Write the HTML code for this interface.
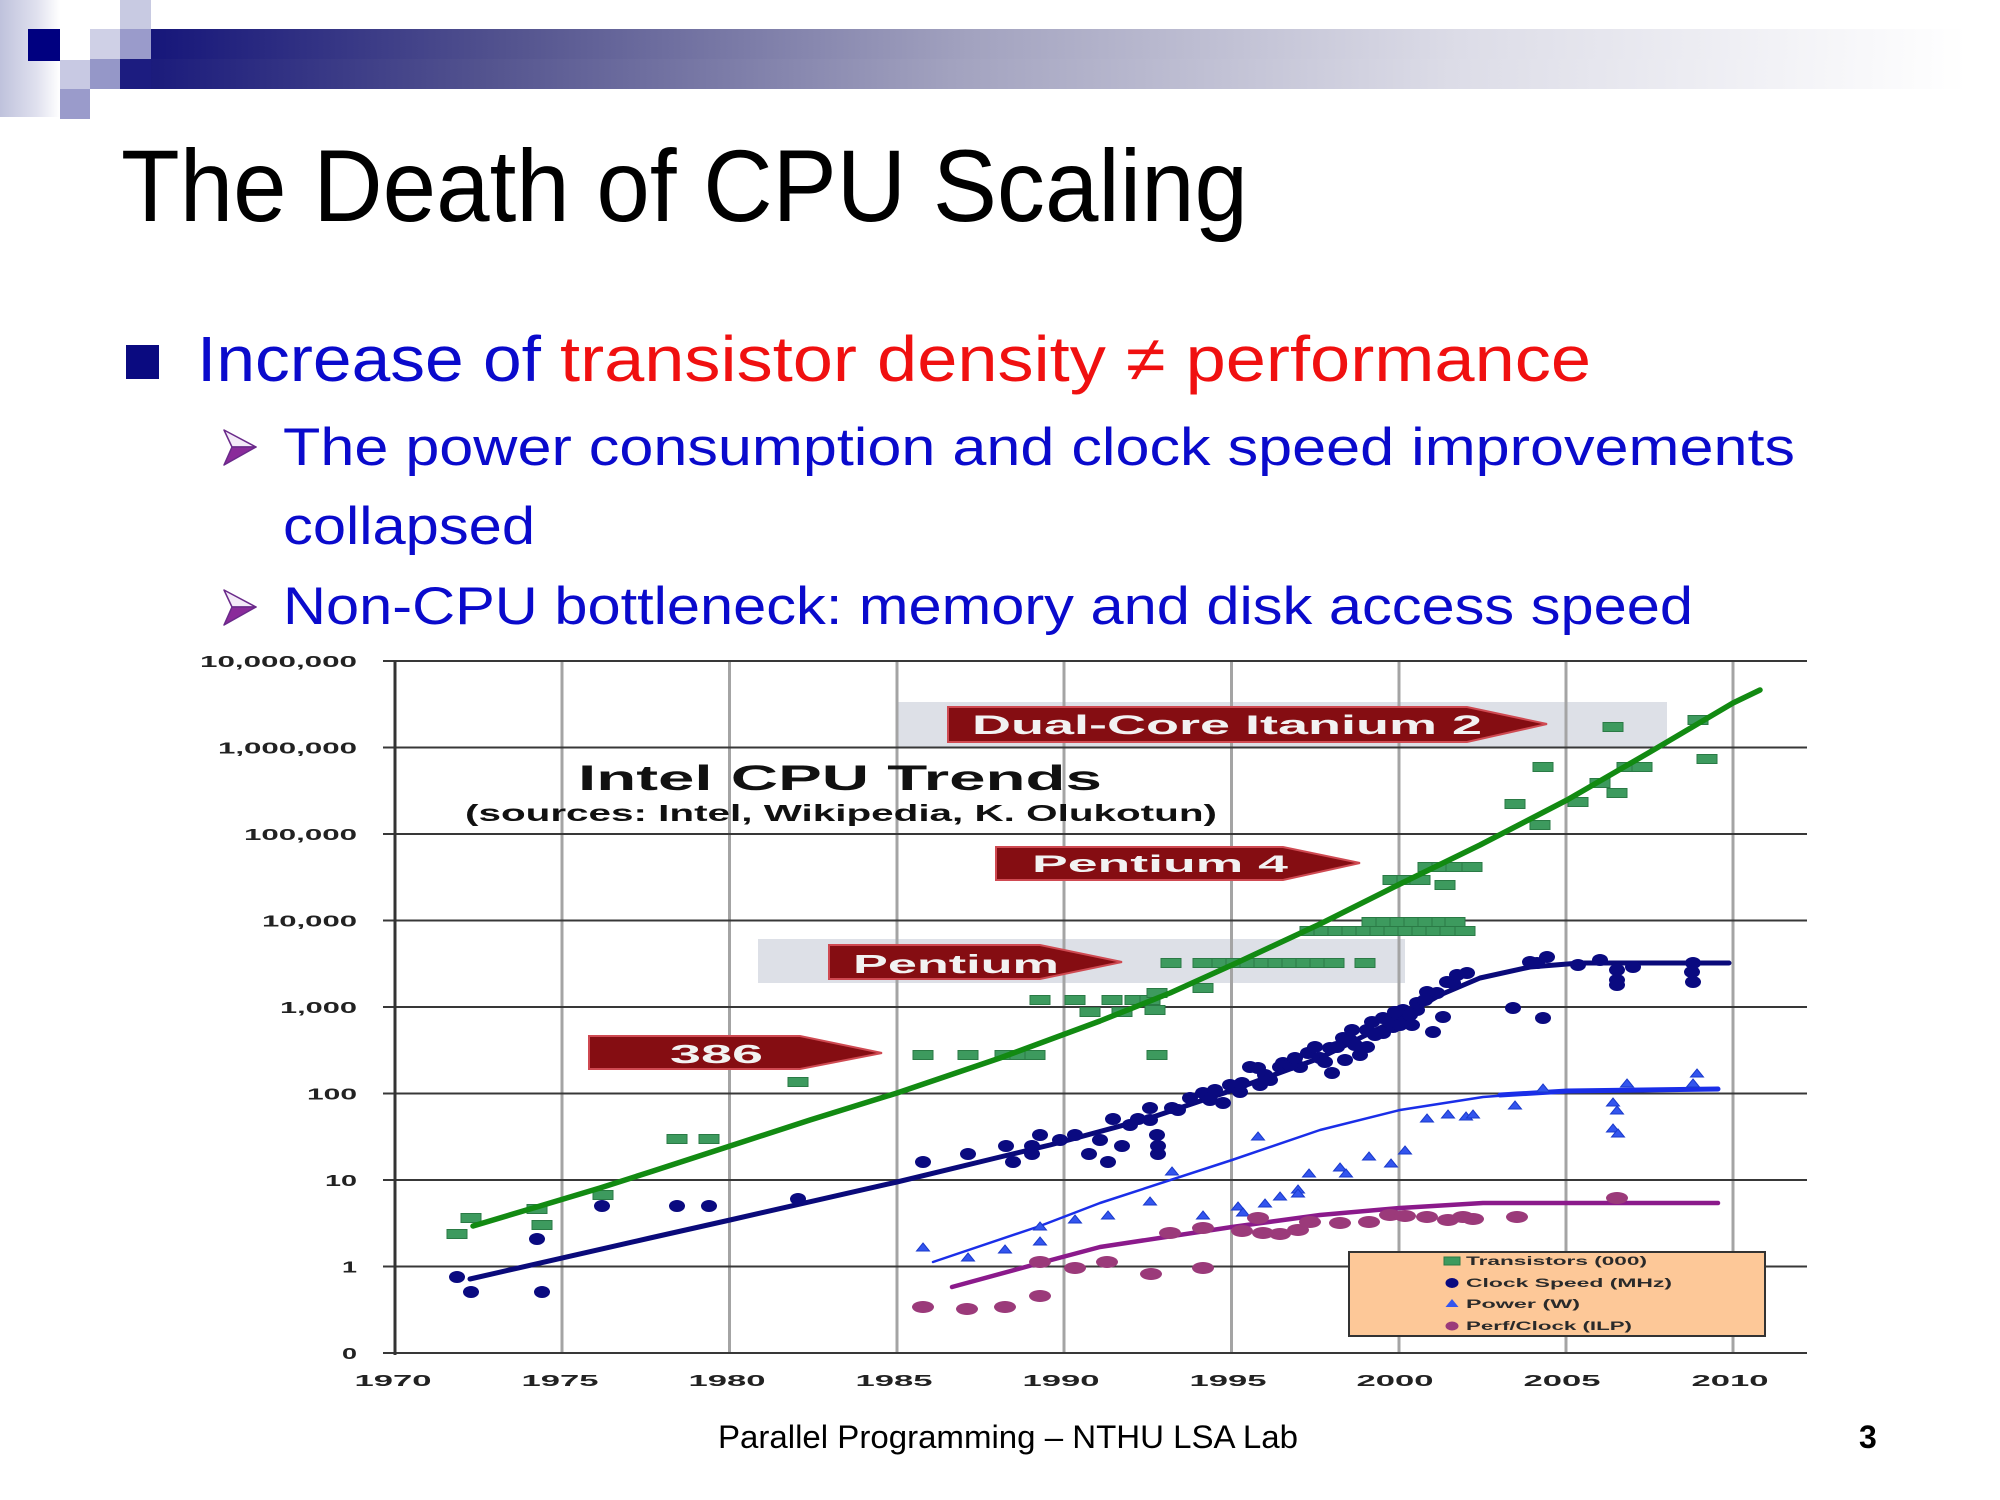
<!DOCTYPE html>
<html><head><meta charset="utf-8"><style>
html,body{margin:0;padding:0;background:#fff;}
svg{display:block;}
text{font-family:"Liberation Sans",sans-serif;}
</style></head><body>
<svg width="2000" height="1500" viewBox="0 0 2000 1500" xmlns="http://www.w3.org/2000/svg">
<defs>
<linearGradient id="bar" x1="0" x2="1" y1="0" y2="0">
<stop offset="0" stop-color="#16167a"/>
<stop offset="0.2" stop-color="#54548f"/>
<stop offset="0.45" stop-color="#a2a2bf"/>
<stop offset="0.72" stop-color="#dcdce7"/>
<stop offset="1" stop-color="#ffffff"/>
</linearGradient>
<linearGradient id="lav" x1="0" x2="1" y1="0" y2="0">
<stop offset="0" stop-color="#bfc2dc"/>
<stop offset="0.6" stop-color="#dfe0ee"/>
<stop offset="1" stop-color="#ffffff"/>
</linearGradient>
</defs>
<rect width="2000" height="1500" fill="#fff"/>
<!-- header decoration -->
<rect x="0" y="0" width="60" height="117" fill="url(#lav)"/>
<rect x="120" y="59" width="1847" height="30" fill="url(#bar)"/>
<rect x="151" y="29" width="1816" height="30" fill="url(#bar)"/>
<rect x="28" y="29" width="32" height="32" fill="#000080"/>
<rect x="90" y="29" width="30" height="30" fill="#cfd0e6"/>
<rect x="120" y="0" width="31" height="29" fill="#c8cae2"/>
<rect x="120" y="29" width="31" height="30" fill="#9a9bcb"/>
<rect x="60" y="60" width="30" height="29" fill="#c8c9e3"/>
<rect x="90" y="59" width="30" height="30" fill="#9597c8"/>
<rect x="60" y="89" width="30" height="30" fill="#9a9bcb"/>
<rect x="120" y="59" width="31" height="30" fill="#1c1c80"/>

<!-- title -->
<text x="121" y="221" font-size="102" fill="#000" textLength="1127" lengthAdjust="spacingAndGlyphs">The Death of CPU Scaling</text>

<!-- bullets -->
<rect x="126" y="345" width="33" height="34" fill="#0a0a80"/>
<text x="197" y="381" font-size="64" fill="#0a0acc" textLength="344" lengthAdjust="spacingAndGlyphs">Increase of</text>
<text x="560" y="381" font-size="64" fill="#f01010" textLength="1031" lengthAdjust="spacingAndGlyphs">transistor density ≠ performance</text>

<g stroke="#6a2a8a" stroke-width="1.5" stroke-linejoin="round">
<polygon points="224,430 256,447 232,447" fill="#f4eaf8"/>
<polygon points="232,447 256,447 224,465" fill="#8a2b9a"/>
<polygon points="224,590 256,607 232,607" fill="#f4eaf8"/>
<polygon points="232,607 256,607 224,625" fill="#8a2b9a"/>
</g>
<text x="283" y="465" font-size="53" fill="#0a0acc" textLength="1512" lengthAdjust="spacingAndGlyphs">The power consumption and clock speed improvements</text>
<text x="283" y="544" font-size="53" fill="#0a0acc" textLength="252" lengthAdjust="spacingAndGlyphs">collapsed</text>
<text x="283" y="624" font-size="53" fill="#0a0acc" textLength="1410" lengthAdjust="spacingAndGlyphs">Non-CPU bottleneck: memory and disk access speed</text>

<!-- chart gray boxes -->
<rect x="897" y="702" width="770" height="45" fill="#dde0e7"/>
<rect x="758" y="939" width="647" height="44" fill="#dde0e7"/>

<!-- vertical gridlines -->
<g stroke="#a4a4a4" stroke-width="3">
<line x1="562" y1="661" x2="562" y2="1353"/>
<line x1="729.5" y1="661" x2="729.5" y2="1353"/>
<line x1="897" y1="661" x2="897" y2="1353"/>
<line x1="1064" y1="661" x2="1064" y2="1353"/>
<line x1="1231.5" y1="661" x2="1231.5" y2="1353"/>
<line x1="1399" y1="661" x2="1399" y2="1353"/>
<line x1="1566" y1="661" x2="1566" y2="1353"/>
<line x1="1733" y1="661" x2="1733" y2="1353"/>
</g>
<!-- horizontal gridlines -->
<g stroke="#383838" stroke-width="2">
<line x1="383" y1="661" x2="1807" y2="661"/>
<line x1="383" y1="747.5" x2="1807" y2="747.5"/>
<line x1="383" y1="834" x2="1807" y2="834"/>
<line x1="383" y1="920.5" x2="1807" y2="920.5"/>
<line x1="383" y1="1007" x2="1807" y2="1007"/>
<line x1="383" y1="1093.5" x2="1807" y2="1093.5"/>
<line x1="383" y1="1180" x2="1807" y2="1180"/>
<line x1="383" y1="1266.5" x2="1807" y2="1266.5"/>
<line x1="383" y1="1353" x2="1807" y2="1353"/>
</g>
<line x1="395" y1="661" x2="395" y2="1355" stroke="#333" stroke-width="3"/>

<!-- y labels -->
<g font-size="16" font-weight="bold" fill="#222" text-anchor="end">
<text x="357" y="667" textLength="157" lengthAdjust="spacingAndGlyphs">10,000,000</text>
<text x="357" y="753.5" textLength="139" lengthAdjust="spacingAndGlyphs">1,000,000</text>
<text x="357" y="840" textLength="113" lengthAdjust="spacingAndGlyphs">100,000</text>
<text x="357" y="926.5" textLength="95" lengthAdjust="spacingAndGlyphs">10,000</text>
<text x="357" y="1013" textLength="77" lengthAdjust="spacingAndGlyphs">1,000</text>
<text x="357" y="1099.5" textLength="50" lengthAdjust="spacingAndGlyphs">100</text>
<text x="357" y="1186" textLength="32" lengthAdjust="spacingAndGlyphs">10</text>
<text x="357" y="1272.5" textLength="15" lengthAdjust="spacingAndGlyphs">1</text>
<text x="357" y="1359" textLength="15" lengthAdjust="spacingAndGlyphs">0</text>
</g>
<!-- x labels -->
<g font-size="16" font-weight="bold" fill="#222" text-anchor="middle">
<text x="393" y="1386" textLength="77" lengthAdjust="spacingAndGlyphs">1970</text>
<text x="560" y="1386" textLength="77" lengthAdjust="spacingAndGlyphs">1975</text>
<text x="727" y="1386" textLength="77" lengthAdjust="spacingAndGlyphs">1980</text>
<text x="894" y="1386" textLength="77" lengthAdjust="spacingAndGlyphs">1985</text>
<text x="1061" y="1386" textLength="77" lengthAdjust="spacingAndGlyphs">1990</text>
<text x="1228" y="1386" textLength="77" lengthAdjust="spacingAndGlyphs">1995</text>
<text x="1395" y="1386" textLength="77" lengthAdjust="spacingAndGlyphs">2000</text>
<text x="1562" y="1386" textLength="77" lengthAdjust="spacingAndGlyphs">2005</text>
<text x="1730" y="1386" textLength="77" lengthAdjust="spacingAndGlyphs">2010</text>
</g>

<!-- chart title -->
<text x="578" y="790" font-size="35" font-weight="bold" fill="#111" textLength="524" lengthAdjust="spacingAndGlyphs">Intel CPU Trends</text>
<text x="465" y="821" font-size="23" font-weight="bold" fill="#111" textLength="752" lengthAdjust="spacingAndGlyphs">(sources: Intel, Wikipedia, K. Olukotun)</text>

<!-- arrows -->
<g fill="#850d12" stroke="#cf4a52" stroke-width="2" stroke-linejoin="miter">
<path d="M948,707 L1467,707 L1547,724 L1467,742 L948,742 Z"/>
<path d="M996,847 L1283,847 L1360,863 L1283,880 L996,880 Z"/>
<path d="M829,945 L1040,945 L1122,962 L1040,979 L829,979 Z"/>
<path d="M589,1036 L800,1036 L882,1053 L800,1069 L589,1069 Z"/>
</g>
<g fill="#f2f2f2" font-weight="bold">
<text x="972" y="734" font-size="27" textLength="510" lengthAdjust="spacingAndGlyphs">Dual-Core Itanium 2</text>
<text x="1032" y="872" font-size="24" textLength="256" lengthAdjust="spacingAndGlyphs">Pentium 4</text>
<text x="853" y="973" font-size="26" textLength="206" lengthAdjust="spacingAndGlyphs">Pentium</text>
<text x="670" y="1063" font-size="26" textLength="93" lengthAdjust="spacingAndGlyphs">386</text>
</g>

<!-- transistors -->
<g fill="#3d9a5e" stroke="#2a7a45" stroke-width="1">
<rect x="447" y="1229.5" width="20" height="9"/><rect x="461" y="1213.5" width="20" height="9"/>
<rect x="527" y="1204.5" width="20" height="9"/><rect x="532" y="1220.5" width="20" height="9"/>
<rect x="593" y="1190.5" width="20" height="9"/><rect x="667" y="1134.5" width="20" height="9"/>
<rect x="699" y="1134.5" width="20" height="9"/><rect x="788" y="1077.5" width="20" height="9"/>
<rect x="913" y="1050.5" width="20" height="9"/><rect x="958" y="1050.5" width="20" height="9"/>
<rect x="995" y="1050.5" width="20" height="9"/><rect x="1010" y="1050.5" width="20" height="9"/>
<rect x="1025" y="1050.5" width="20" height="9"/><rect x="1147" y="1050.5" width="20" height="9"/>
<rect x="1030" y="995.5" width="20" height="9"/><rect x="1065" y="995.5" width="20" height="9"/>
<rect x="1102" y="995.5" width="20" height="9"/><rect x="1125" y="995.5" width="20" height="9"/>
<rect x="1140" y="995.5" width="20" height="9"/><rect x="1080" y="1007.5" width="20" height="9"/>
<rect x="1112" y="1007.5" width="20" height="9"/><rect x="1145" y="1005.5" width="20" height="9"/>
<rect x="1147" y="988.5" width="20" height="9"/><rect x="1193" y="983.5" width="20" height="9"/>
<rect x="1161" y="958.5" width="20" height="9"/><rect x="1193" y="958.5" width="20" height="9"/>
<rect x="1212" y="958.5" width="20" height="9"/><rect x="1226" y="958.5" width="20" height="9"/>
<rect x="1240" y="958.5" width="20" height="9"/><rect x="1254" y="958.5" width="20" height="9"/>
<rect x="1268" y="958.5" width="20" height="9"/><rect x="1282" y="958.5" width="20" height="9"/>
<rect x="1296" y="958.5" width="20" height="9"/><rect x="1310" y="958.5" width="20" height="9"/>
<rect x="1324" y="958.5" width="20" height="9"/><rect x="1355" y="958.5" width="20" height="9"/>
<rect x="1300" y="926.5" width="20" height="9"/><rect x="1314" y="926.5" width="20" height="9"/>
<rect x="1328" y="926.5" width="20" height="9"/><rect x="1342" y="926.5" width="20" height="9"/>
<rect x="1356" y="926.5" width="20" height="9"/><rect x="1370" y="926.5" width="20" height="9"/>
<rect x="1384" y="926.5" width="20" height="9"/><rect x="1398" y="926.5" width="20" height="9"/>
<rect x="1412" y="926.5" width="20" height="9"/><rect x="1426" y="926.5" width="20" height="9"/>
<rect x="1440" y="926.5" width="20" height="9"/><rect x="1455" y="926.5" width="20" height="9"/>
<rect x="1362" y="917.5" width="20" height="9"/><rect x="1376" y="917.5" width="20" height="9"/>
<rect x="1390" y="917.5" width="20" height="9"/><rect x="1404" y="917.5" width="20" height="9"/>
<rect x="1418" y="917.5" width="20" height="9"/><rect x="1432" y="917.5" width="20" height="9"/>
<rect x="1445" y="917.5" width="20" height="9"/>
<rect x="1383" y="875.5" width="20" height="9"/><rect x="1397" y="875.5" width="20" height="9"/>
<rect x="1410" y="875.5" width="20" height="9"/><rect x="1435" y="880.5" width="20" height="9"/>
<rect x="1418" y="862.5" width="20" height="9"/><rect x="1432" y="862.5" width="20" height="9"/>
<rect x="1446" y="862.5" width="20" height="9"/><rect x="1462" y="862.5" width="20" height="9"/>
<rect x="1505" y="799.5" width="20" height="9"/><rect x="1530" y="820.5" width="20" height="9"/>
<rect x="1533" y="762.5" width="20" height="9"/><rect x="1568" y="797.5" width="20" height="9"/>
<rect x="1590" y="778.5" width="20" height="9"/><rect x="1607" y="788.5" width="20" height="9"/>
<rect x="1617" y="762.5" width="20" height="9"/><rect x="1632" y="762.5" width="20" height="9"/>
<rect x="1603" y="722.5" width="20" height="9"/><rect x="1688" y="715.5" width="20" height="9"/>
<rect x="1697" y="754.5" width="20" height="9"/>
</g>
<polyline fill="none" stroke="#128a12" stroke-width="5.5" stroke-linecap="round" stroke-linejoin="round"
points="473,1226 540,1206 600,1188 650,1172 730,1146 810,1120 897,1093 1000,1058 1100,1021 1170,993 1232,965 1320,924 1400,884 1480,845 1567,800 1650,752 1733,703 1760,690"/>

<!-- clock speed -->
<polyline fill="none" stroke="#0a0a7a" stroke-width="5" stroke-linecap="round" stroke-linejoin="round"
points="470,1279 650,1238 730,1220 897,1182 1000,1157 1050,1145 1150,1118 1230,1091 1320,1058 1400,1018 1440,995 1480,978 1530,967 1580,963 1729,963"/>
<g fill="#0a0a80">
<ellipse cx="457" cy="1277" rx="8" ry="6"/><ellipse cx="471" cy="1292" rx="8" ry="6"/>
<ellipse cx="537" cy="1239" rx="8" ry="6"/><ellipse cx="542" cy="1292" rx="8" ry="6"/>
<ellipse cx="602" cy="1206" rx="8" ry="6"/><ellipse cx="677" cy="1206" rx="8" ry="6"/>
<ellipse cx="709" cy="1206" rx="8" ry="6"/><ellipse cx="798" cy="1199" rx="8" ry="6"/>
<ellipse cx="923" cy="1162" rx="8" ry="6"/><ellipse cx="968" cy="1154" rx="8" ry="6"/>
<ellipse cx="1006" cy="1146" rx="8" ry="6"/><ellipse cx="1013" cy="1162" rx="8" ry="6"/>
<ellipse cx="1032" cy="1146" rx="8" ry="6"/><ellipse cx="1032" cy="1154" rx="8" ry="6"/>
<ellipse cx="1040" cy="1135" rx="8" ry="6"/><ellipse cx="1075" cy="1135" rx="8" ry="6"/>
<ellipse cx="1089" cy="1154" rx="8" ry="6"/><ellipse cx="1108" cy="1162" rx="8" ry="6"/>
<ellipse cx="1113" cy="1119" rx="8" ry="6"/><ellipse cx="1122" cy="1146" rx="8" ry="6"/>
<ellipse cx="1138" cy="1119" rx="8" ry="6"/><ellipse cx="1150" cy="1108" rx="8" ry="6"/>
<ellipse cx="1157" cy="1135" rx="8" ry="6"/><ellipse cx="1158" cy="1146" rx="8" ry="6"/>
<ellipse cx="1158" cy="1154" rx="8" ry="6"/><ellipse cx="1172" cy="1108" rx="8" ry="6"/>
<ellipse cx="1203" cy="1093" rx="8" ry="6"/><ellipse cx="1223" cy="1103" rx="8" ry="6"/>
<ellipse cx="1242" cy="1083" rx="8" ry="6"/><ellipse cx="1250" cy="1067" rx="8" ry="6"/>
<ellipse cx="1258" cy="1068" rx="8" ry="6"/><ellipse cx="1280" cy="1067" rx="8" ry="6"/>
<ellipse cx="1283" cy="1063" rx="8" ry="6"/><ellipse cx="1300" cy="1067" rx="8" ry="6"/>
<ellipse cx="1308" cy="1053" rx="8" ry="6"/><ellipse cx="1332" cy="1073" rx="8" ry="6"/>
<ellipse cx="1337" cy="1047" rx="8" ry="6"/><ellipse cx="1343" cy="1038" rx="8" ry="6"/>
<ellipse cx="1350" cy="1040" rx="8" ry="6"/><ellipse cx="1367" cy="1047" rx="8" ry="6"/>
<ellipse cx="1367" cy="1030" rx="8" ry="6"/><ellipse cx="1383" cy="1033" rx="8" ry="6"/>
<ellipse cx="1383" cy="1018" rx="8" ry="6"/><ellipse cx="1393" cy="1027" rx="8" ry="6"/>
<ellipse cx="1403" cy="1017" rx="8" ry="6"/><ellipse cx="1403" cy="1010" rx="8" ry="6"/>
<ellipse cx="1417" cy="1010" rx="8" ry="6"/><ellipse cx="1417" cy="1003" rx="8" ry="6"/>
<ellipse cx="1433" cy="1032" rx="8" ry="6"/><ellipse cx="1437" cy="993" rx="8" ry="6"/>
<ellipse cx="1443" cy="1017" rx="8" ry="6"/><ellipse cx="1427" cy="992" rx="8" ry="6"/>
<ellipse cx="1447" cy="982" rx="8" ry="6"/><ellipse cx="1453" cy="983" rx="8" ry="6"/>
<ellipse cx="1467" cy="973" rx="8" ry="6"/><ellipse cx="1513" cy="1008" rx="8" ry="6"/>
<ellipse cx="1543" cy="1018" rx="8" ry="6"/><ellipse cx="1530" cy="962" rx="8" ry="6"/>
<ellipse cx="1537" cy="963" rx="8" ry="6"/><ellipse cx="1547" cy="957" rx="8" ry="6"/>
<ellipse cx="1578" cy="965" rx="8" ry="6"/><ellipse cx="1600" cy="960" rx="8" ry="6"/>
<ellipse cx="1617" cy="970" rx="8" ry="6"/><ellipse cx="1617" cy="980" rx="8" ry="6"/>
<ellipse cx="1617" cy="985" rx="8" ry="6"/><ellipse cx="1633" cy="967" rx="8" ry="6"/>
<ellipse cx="1693" cy="963" rx="8" ry="6"/><ellipse cx="1692" cy="972" rx="8" ry="6"/>
<ellipse cx="1693" cy="982" rx="8" ry="6"/>
<ellipse cx="1190" cy="1098" rx="8" ry="6"/><ellipse cx="1215" cy="1090" rx="8" ry="6"/>
<ellipse cx="1230" cy="1085" rx="8" ry="6"/><ellipse cx="1265" cy="1075" rx="8" ry="6"/>
<ellipse cx="1290" cy="1065" rx="8" ry="6"/><ellipse cx="1320" cy="1058" rx="8" ry="6"/>
<ellipse cx="1330" cy="1048" rx="8" ry="6"/><ellipse cx="1355" cy="1045" rx="8" ry="6"/>
<ellipse cx="1375" cy="1035" rx="8" ry="6"/><ellipse cx="1390" cy="1022" rx="8" ry="6"/>
<ellipse cx="1410" cy="1015" rx="8" ry="6"/><ellipse cx="1425" cy="1000" rx="8" ry="6"/>
<ellipse cx="1400" cy="1025" rx="8" ry="6"/><ellipse cx="1360" cy="1055" rx="8" ry="6"/>
<ellipse cx="1345" cy="1060" rx="8" ry="6"/><ellipse cx="1270" cy="1080" rx="8" ry="6"/>
<ellipse cx="1240" cy="1092" rx="8" ry="6"/><ellipse cx="1178" cy="1110" rx="8" ry="6"/>
<ellipse cx="1150" cy="1120" rx="8" ry="6"/><ellipse cx="1130" cy="1125" rx="8" ry="6"/>
<ellipse cx="1100" cy="1140" rx="8" ry="6"/><ellipse cx="1060" cy="1140" rx="8" ry="6"/>
<ellipse cx="1295" cy="1058" rx="8" ry="6"/><ellipse cx="1315" cy="1047" rx="8" ry="6"/>
<ellipse cx="1325" cy="1062" rx="8" ry="6"/><ellipse cx="1352" cy="1030" rx="8" ry="6"/>
<ellipse cx="1372" cy="1022" rx="8" ry="6"/><ellipse cx="1395" cy="1012" rx="8" ry="6"/>
<ellipse cx="1412" cy="1025" rx="8" ry="6"/><ellipse cx="1260" cy="1085" rx="8" ry="6"/>
<ellipse cx="1210" cy="1100" rx="8" ry="6"/><ellipse cx="1457" cy="975" rx="8" ry="6"/>
</g>

<!-- power -->
<polyline fill="none" stroke="#1a2ee8" stroke-width="2.5" stroke-linecap="round" stroke-linejoin="round"
points="933,1262 1040,1226 1100,1203 1232,1160 1320,1130 1400,1110 1483,1097 1550,1092"/>
<polyline fill="none" stroke="#1a2ee8" stroke-width="5" stroke-linecap="round"
points="1500,1095 1567,1091 1718,1089"/>
<g fill="#3355ee" stroke="#1a3acc" stroke-width="1">
<path d="M923,1243 l6.5,8 h-13 z"/><path d="M968,1253 l6.5,8 h-13 z"/>
<path d="M1005,1245 l6.5,8 h-13 z"/><path d="M1040,1237 l6.5,8 h-13 z"/>
<path d="M1040,1222 l6.5,8 h-13 z"/><path d="M1075,1215 l6.5,8 h-13 z"/>
<path d="M1108,1211 l6.5,8 h-13 z"/><path d="M1150,1197 l6.5,8 h-13 z"/>
<path d="M1172,1167 l6.5,8 h-13 z"/><path d="M1203,1211 l6.5,8 h-13 z"/>
<path d="M1238,1202 l6.5,8 h-13 z"/><path d="M1243,1208 l6.5,8 h-13 z"/>
<path d="M1258,1132 l6.5,8 h-13 z"/><path d="M1265,1199 l6.5,8 h-13 z"/>
<path d="M1280,1192 l6.5,8 h-13 z"/><path d="M1298,1185 l6.5,8 h-13 z"/>
<path d="M1298,1189 l6.5,8 h-13 z"/><path d="M1309,1169 l6.5,8 h-13 z"/>
<path d="M1340,1163 l6.5,8 h-13 z"/><path d="M1346,1169 l6.5,8 h-13 z"/>
<path d="M1369,1152 l6.5,8 h-13 z"/><path d="M1391,1159 l6.5,8 h-13 z"/>
<path d="M1405,1146 l6.5,8 h-13 z"/><path d="M1427,1114 l6.5,8 h-13 z"/>
<path d="M1448,1110 l6.5,8 h-13 z"/><path d="M1466,1112 l6.5,8 h-13 z"/>
<path d="M1473,1110 l6.5,8 h-13 z"/><path d="M1515,1101 l6.5,8 h-13 z"/>
<path d="M1543,1084 l6.5,8 h-13 z"/><path d="M1627,1079 l6.5,8 h-13 z"/>
<path d="M1613,1098 l6.5,8 h-13 z"/><path d="M1617,1106 l6.5,8 h-13 z"/>
<path d="M1613,1124 l6.5,8 h-13 z"/><path d="M1618,1129 l6.5,8 h-13 z"/>
<path d="M1697,1069 l6.5,8 h-13 z"/><path d="M1693,1079 l6.5,8 h-13 z"/>
</g>

<!-- perf/clock -->
<polyline fill="none" stroke="#8b1a8b" stroke-width="4.5" stroke-linecap="round" stroke-linejoin="round"
points="952,1287 1040,1263 1100,1247 1232,1227 1320,1215 1400,1208 1483,1203 1718,1203"/>
<g fill="#9b3a7a">
<ellipse cx="923" cy="1307" rx="11" ry="6"/><ellipse cx="967" cy="1309" rx="11" ry="6"/>
<ellipse cx="1005" cy="1307" rx="11" ry="6"/><ellipse cx="1040" cy="1296" rx="11" ry="6"/>
<ellipse cx="1040" cy="1262" rx="11" ry="6"/><ellipse cx="1075" cy="1268" rx="11" ry="6"/>
<ellipse cx="1107" cy="1262" rx="11" ry="6"/><ellipse cx="1151" cy="1274" rx="11" ry="6"/>
<ellipse cx="1170" cy="1233" rx="11" ry="6"/><ellipse cx="1203" cy="1268" rx="11" ry="6"/>
<ellipse cx="1203" cy="1228" rx="11" ry="6"/><ellipse cx="1242" cy="1231" rx="11" ry="6"/>
<ellipse cx="1258" cy="1218" rx="11" ry="6"/><ellipse cx="1263" cy="1233" rx="11" ry="6"/>
<ellipse cx="1280" cy="1234" rx="11" ry="6"/><ellipse cx="1298" cy="1230" rx="11" ry="6"/>
<ellipse cx="1310" cy="1222" rx="11" ry="6"/><ellipse cx="1340" cy="1223" rx="11" ry="6"/>
<ellipse cx="1369" cy="1222" rx="11" ry="6"/><ellipse cx="1390" cy="1215" rx="11" ry="6"/>
<ellipse cx="1405" cy="1216" rx="11" ry="6"/><ellipse cx="1427" cy="1217" rx="11" ry="6"/>
<ellipse cx="1448" cy="1220" rx="11" ry="6"/><ellipse cx="1463" cy="1217" rx="11" ry="6"/>
<ellipse cx="1473" cy="1219" rx="11" ry="6"/><ellipse cx="1517" cy="1217" rx="11" ry="6"/>
<ellipse cx="1617" cy="1198" rx="11" ry="6"/>
</g>

<!-- legend -->
<rect x="1349" y="1252" width="416" height="84" fill="#fdc898" stroke="#333" stroke-width="2"/>
<rect x="1444" y="1257" width="16" height="8" fill="#3d9a5e" stroke="#2a7a45" stroke-width="1"/>
<ellipse cx="1452" cy="1283" rx="6.5" ry="5" fill="#0a0a80"/>
<path d="M1452,1299 l6.5,8 h-13 z" fill="#3355ee"/>
<ellipse cx="1452" cy="1326" rx="6.5" ry="4.5" fill="#9b3a7a"/>
<g font-size="12" font-weight="bold" fill="#2a2a2a">
<text x="1466" y="1265" textLength="181" lengthAdjust="spacingAndGlyphs">Transistors (000)</text>
<text x="1466" y="1287" textLength="206" lengthAdjust="spacingAndGlyphs">Clock Speed (MHz)</text>
<text x="1466" y="1308" textLength="114" lengthAdjust="spacingAndGlyphs">Power (W)</text>
<text x="1466" y="1330" textLength="166" lengthAdjust="spacingAndGlyphs">Perf/Clock (ILP)</text>
</g>

<!-- footer -->
<text x="718" y="1448" font-size="32" fill="#000" textLength="580" lengthAdjust="spacingAndGlyphs">Parallel Programming – NTHU LSA Lab</text>
<text x="1859" y="1448" font-size="32" font-weight="bold" fill="#000">3</text>
</svg>
</body></html>
